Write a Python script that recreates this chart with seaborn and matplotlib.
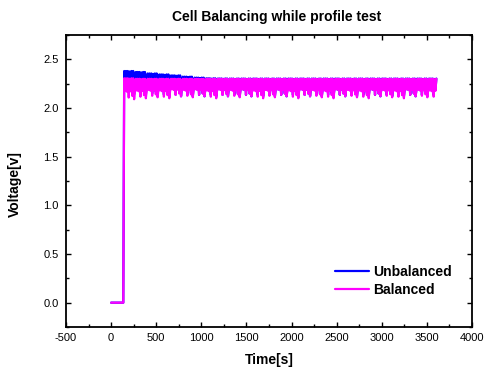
import numpy as np
import pandas as pd
import seaborn as sns
import matplotlib.pyplot as plt
import matplotlib.ticker as ticker

sns.set_theme(style="ticks")
plt.rcParams["font.family"] = ["Liberation Sans", "DejaVu Sans"]
plt.rcParams["axes.unicode_minus"] = False

## Data
# idle part before the profile starts (both cells at 0 V)
t_idle = [0, 135]
v_idle = [0.0, 0.0]

# profile test: samples every 10 s from 145 s to ~3610 s, one drive cycle = 13 samples (130 s)
t_start, t_step, t_end = 145, 10, 3610
# shape of one drive cycle (0 = rest voltage, 1 = deepest dip of the cycle)
cycle_shape = [0.0, 0.6, 0.0, 0.64, 0.0, 0.92, 0.02, 0.62, 0.0, 0.84, 0.0, 1.0, 0.58]

# rest (top) and deepest (bottom) voltage of each cycle
unbal_top = [2.38, 2.37, 2.355, 2.345, 2.335, 2.322, 2.312, 2.305, 2.303, 2.302,
             2.302, 2.302, 2.302, 2.302, 2.302, 2.302, 2.302, 2.302, 2.302, 2.302,
             2.302, 2.302, 2.302, 2.302, 2.302, 2.302, 2.302]
unbal_low = [2.14, 2.13, 2.13, 2.12, 2.12, 2.12, 2.12, 2.12, 2.12, 2.12,
             2.12, 2.12, 2.12, 2.12, 2.12, 2.12, 2.12, 2.12, 2.12, 2.12,
             2.12, 2.12, 2.12, 2.12, 2.12, 2.12, 2.12]
bal_top = [2.305, 2.30, 2.30, 2.30, 2.30, 2.30, 2.30, 2.30, 2.30, 2.30,
           2.30, 2.30, 2.30, 2.30, 2.30, 2.30, 2.30, 2.30, 2.30, 2.30,
           2.30, 2.30, 2.30, 2.30, 2.30, 2.30, 2.30]
bal_low = [2.09, 2.10, 2.11, 2.10, 2.12, 2.11, 2.12, 2.10, 2.12, 2.11,
           2.12, 2.10, 2.11, 2.12, 2.10, 2.12, 2.11, 2.10, 2.12, 2.11,
           2.10, 2.12, 2.11, 2.10, 2.12, 2.11, 2.10]

series_names = ["Unbalanced", "Balanced"]
series_colors = ["#0000FF", "#FF00FF"]


def build_series(top, low):
    t = np.arange(t_start, t_end + 1, t_step)
    n = len(t)
    shape = np.tile(cycle_shape, len(top))[:n]
    hi = np.repeat(top, len(cycle_shape))[:n]
    lo = np.repeat(low, len(cycle_shape))[:n]
    v = hi - shape * (hi - lo)
    return np.concatenate([t_idle, t]), np.concatenate([v_idle, v])


frames = []
for name, top, low in zip(series_names, [unbal_top, bal_top], [unbal_low, bal_low]):
    t, v = build_series(top, low)
    frames.append(pd.DataFrame({"Time[s]": t, "Voltage[v]": v, "cell": name}))
data = pd.concat(frames, ignore_index=True)

#--Plot
fig = plt.figure(figsize=(4.87, 3.72), dpi=100)
ax = fig.add_axes([66 / 487, 1 - 327 / 372, 406 / 487, 292 / 372])
sns.lineplot(data=data, x="Time[s]", y="Voltage[v]", hue="cell",
             hue_order=series_names, palette=series_colors,
             estimator=None, sort=False, linewidth=1.6, ax=ax)

ax.set_xlim(-500, 4000)
ax.set_ylim(-0.25, 2.75)
ax.xaxis.set_major_locator(ticker.MultipleLocator(500))
ax.xaxis.set_minor_locator(ticker.MultipleLocator(250))
ax.yaxis.set_major_locator(ticker.MultipleLocator(0.5))
ax.yaxis.set_minor_locator(ticker.MultipleLocator(0.25))
ax.yaxis.set_major_formatter(ticker.FormatStrFormatter("%.1f"))

ax.tick_params(which="both", direction="in", top=True, right=True,
               width=1.0, labelsize=8, color="black", labelcolor="black")
ax.tick_params(which="major", length=3.6)
ax.tick_params(which="minor", length=2.0)
ax.tick_params(axis="x", pad=4.5)
ax.tick_params(axis="y", pad=5.3)
for sp in ax.spines.values():
    sp.set_linewidth(1.3)
    sp.set_color("black")

ax.set_xlabel("Time[s]", fontsize=10, fontweight="bold", color="black")
ax.set_ylabel("Voltage[v]", fontsize=10, fontweight="bold", color="black")
ax.xaxis.set_label_coords(0.5, -0.089)
ax.yaxis.set_label_coords(-0.108, 0.49)

ax.legend(loc="center left", bbox_to_anchor=(0.6626, 0.1575), frameon=False,
          borderpad=0, borderaxespad=0, handlelength=2.45, handletextpad=0.3,
          labelspacing=0.3, prop={"size": 10, "weight": "bold"})
for line in ax.get_legend().get_lines():
    line.set_linewidth(1.6)
for txt in ax.get_legend().get_texts():
    txt.set_color("black")

fig.text(277 / 487, 1 - 17 / 372, "Cell Balancing while profile test",
         ha="center", va="center", fontsize=10, fontweight="bold", color="black")

fig.savefig("out.png", dpi=100)
plt.close()
